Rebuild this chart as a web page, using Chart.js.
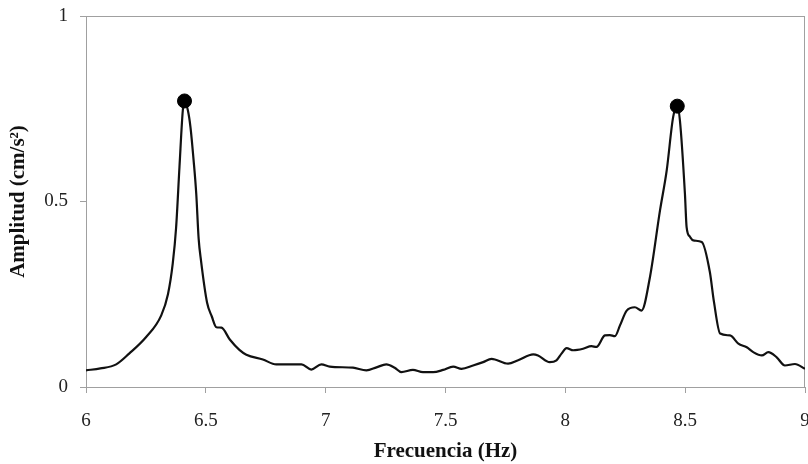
<!DOCTYPE html>
<html>
<head>
<meta charset="utf-8">
<script src="https://cdn.jsdelivr.net/npm/chart.js@4/dist/chart.umd.min.js"></script>
<style>
  html, body { margin: 0; padding: 0; background: #ffffff; }
  #wrap { width: 808px; height: 464px; }
</style>
</head>
<body>
<div id="wrap"><canvas id="c" width="808" height="464"></canvas></div>
<script>
const frecuencia = [6.00, 6.06, 6.126, 6.18, 6.25, 6.314, 6.342, 6.362, 6.376, 6.39, 6.404, 6.411, 6.425, 6.436, 6.449, 6.46, 6.47, 6.48, 6.505, 6.525, 6.544, 6.565, 6.60, 6.64, 6.669, 6.738, 6.794, 6.899, 6.94, 6.982, 7.017, 7.114, 7.17, 7.212, 7.253, 7.288, 7.316, 7.364, 7.406, 7.448, 7.49, 7.532, 7.567, 7.615, 7.657, 7.692, 7.761, 7.803, 7.866, 7.886, 7.935, 7.963, 7.984, 8.005, 8.033, 8.074, 8.109, 8.13, 8.165, 8.186, 8.207, 8.228, 8.256, 8.29, 8.318, 8.353, 8.395, 8.423, 8.45, 8.467, 8.478, 8.499, 8.506, 8.52, 8.534, 8.569, 8.603, 8.62, 8.646, 8.687, 8.722, 8.757, 8.784, 8.82, 8.847, 8.882, 8.916, 8.958, 9.00];
const amplitud = [0.045, 0.050, 0.061, 0.090, 0.134, 0.193, 0.250, 0.333, 0.430, 0.593, 0.746, 0.771, 0.746, 0.700, 0.611, 0.521, 0.400, 0.340, 0.228, 0.190, 0.161, 0.160, 0.128, 0.100, 0.087, 0.074, 0.061, 0.061, 0.047, 0.061, 0.055, 0.052, 0.045, 0.053, 0.061, 0.052, 0.040, 0.046, 0.040, 0.040, 0.046, 0.055, 0.049, 0.058, 0.067, 0.076, 0.063, 0.072, 0.088, 0.085, 0.067, 0.072, 0.090, 0.105, 0.099, 0.103, 0.110, 0.108, 0.139, 0.140, 0.137, 0.166, 0.206, 0.215, 0.206, 0.296, 0.476, 0.584, 0.728, 0.757, 0.719, 0.521, 0.431, 0.405, 0.395, 0.391, 0.310, 0.230, 0.144, 0.139, 0.117, 0.107, 0.094, 0.085, 0.094, 0.080, 0.058, 0.062, 0.049];
const picosFrecuencia = [6.411, 8.467];
const picosAmplitud = [0.771, 0.757];
const xTitulo = 'Frecuencia (Hz)';
const yTitulo = 'Amplitud (cm/s²)';

const curva = frecuencia.map((f, i) => ({ x: f, y: amplitud[i] }));
const picos = picosFrecuencia.map((f, i) => ({ x: f, y: picosAmplitud[i] }));

const framePlugin = {
  id: 'frame',
  beforeDatasetsDraw(chart) {
    const a = chart.chartArea, ctx = chart.ctx;
    ctx.save();
    ctx.strokeStyle = '#a0a0a0';
    ctx.lineWidth = 1;
    ctx.strokeRect(a.left + 0.5, a.top + 0.5, a.right - a.left - 1, a.bottom - a.top);
    ctx.restore();
  }
};

const fmt = v => String(Math.round(v * 10) / 10);
const tickFont = { family: '"Liberation Serif", "Times New Roman", serif', size: 19 };
const titleFont = { family: '"Liberation Serif", "Times New Roman", serif', size: 21, weight: 'bold' };

new Chart(document.getElementById('c'), {
  type: 'scatter',
  data: {
    datasets: [
      {
        data: picos,
        showLine: false,
        pointRadius: 7,
        pointBackgroundColor: '#000',
        pointBorderColor: '#000',
        order: 0
      },
      {
        data: curva,
        showLine: true,
        borderColor: '#111',
        borderWidth: 2.2,
        pointRadius: 0,
        cubicInterpolationMode: 'monotone',
        fill: false,
        order: 1
      }
    ]
  },
  options: {
    responsive: false,
    animation: false,
    events: [],
    layout: { autoPadding: false, padding: { top: 16, right: 3, bottom: 0, left: 0 } },
    plugins: { legend: { display: false }, tooltip: { enabled: false } },
    scales: {
      x: {
        type: 'linear', min: 6, max: 9,
        afterFit: s => { s.height = 77; s.paddingLeft = 0; s.paddingRight = 0; },
        ticks: { stepSize: 0.5, color: '#222', font: tickFont, padding: 17, maxRotation: 0, callback: fmt },
        grid: { display: true, drawOnChartArea: false, tickLength: 6, color: '#a0a0a0' },
        border: { display: true, color: '#a0a0a0' },
        title: { display: true, text: xTitulo, color: '#111', font: titleFont, padding: { top: 0, bottom: 0 } }
      },
      y: {
        type: 'linear', min: 0, max: 1,
        afterFit: s => { s.width = 86; s.paddingTop = 0; s.paddingBottom = 0; },
        ticks: { stepSize: 0.5, color: '#222', font: tickFont, padding: 12, callback: fmt },
        grid: { display: true, drawOnChartArea: false, tickLength: 6, color: '#a0a0a0' },
        border: { display: true, color: '#a0a0a0' },
        title: { display: true, text: yTitulo, color: '#111', font: titleFont, padding: { top: 6, bottom: 0 } }
      }
    }
  },
  plugins: [framePlugin]
});
</script>
</body>
</html>
